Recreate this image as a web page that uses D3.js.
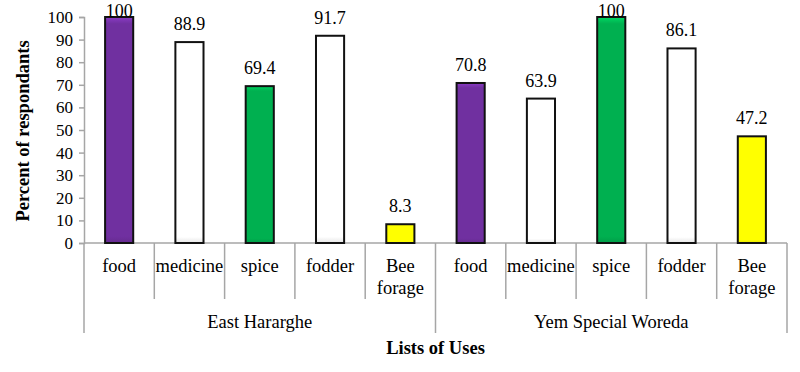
<!DOCTYPE html>
<html>
<head>
<meta charset="utf-8">
<style>
body { margin: 0; background: #fff; }
svg text { font-family: "Liberation Serif", serif; fill: #000; }
.grey { stroke: #a6a6a6; stroke-width: 1.5; }
</style>
</head>
<body>
<div id="container"></div>
<script src="https://d3js.org/d3.v7.min.js"></script>
<script>
const width = 800;
const height = 372;
const serif = '"Liberation Serif", serif';

// data
const groups = ["East Hararghe", "Yem Special Woreda"];
const uses = ["food", "medicine", "spice", "fodder", "Bee forage"];
const eastHararghe = [100, 88.9, 69.4, 91.7, 8.3];
const yemWoreda = [70.8, 63.9, 100, 86.1, 47.2];
const useColors = ["#7030a0", "#ffffff", "#00b050", "#ffffff", "#ffff00"];
const yTicks = [0, 10, 20, 30, 40, 50, 60, 70, 80, 90, 100];

const groupValues = [eastHararghe, yemWoreda];
const rows = [];
groups.forEach((g, gi) => {
  uses.forEach((u, ui) => {
    rows.push({ key: g + "|" + u, group: g, use: u, value: groupValues[gi][ui], ci: ui });
  });
});

const margin = { left: 84, right: 13, top: 17, bottom: 129 };
const svg = d3.select('#container').append('svg')
  .attr('width', width).attr('height', height)
  .attr('font-family', serif);

const defs = svg.append('defs');
useColors.forEach((c, i) => {
  const grad = defs.append('linearGradient').attr('id', 'g' + i)
    .attr('x1', 0).attr('y1', 0).attr('x2', 0).attr('y2', 1);
  const base = d3.color(c);
  grad.append('stop').attr('offset', '0%').attr('stop-color', base.brighter(0.6));
  grad.append('stop').attr('offset', '3%').attr('stop-color', base);
  grad.append('stop').attr('offset', '97%').attr('stop-color', base);
  grad.append('stop').attr('offset', '100%').attr('stop-color', base.darker(0.3));
});

const x = d3.scaleBand()
  .domain(rows.map(d => d.key))
  .range([margin.left, width - margin.right])
  .paddingInner(0.6).paddingOuter(0.3);

const y = d3.scaleLinear().domain([0, 100]).range([height - margin.bottom, margin.top]);

// y axis
const yAxis = svg.append('g')
  .attr('transform', `translate(${margin.left},0)`)
  .call(d3.axisLeft(y).tickValues(yTicks).tickSize(5).tickPadding(6));
yAxis.attr('font-family', serif).attr('font-size', 17);
yAxis.selectAll('text').attr('fill', '#000');
yAxis.selectAll('line, path').attr('stroke', '#a6a6a6').attr('stroke-width', 1.5);

// category axis line and dividers
const x0 = x.range()[0], x1 = x.range()[1], step = x.step();
const y0 = y(0);
svg.append('line').attr('class', 'grey')
  .attr('x1', x0).attr('x2', x1).attr('y1', y0).attr('y2', y0);

d3.range(rows.length + 1).forEach(i => {
  const isGroup = i % uses.length === 0;
  svg.append('line').attr('class', 'grey')
    .attr('x1', x0 + i * step).attr('x2', x0 + i * step)
    .attr('y1', y0).attr('y2', isGroup ? y0 + 90 : y0 + 56);
});

// bars
svg.append('g').selectAll('rect')
  .data(rows).join('rect')
  .attr('x', d => x(d.key))
  .attr('y', d => y(d.value))
  .attr('width', x.bandwidth())
  .attr('height', d => y0 - y(d.value))
  .attr('fill', d => 'url(#g' + d.ci + ')')
  .attr('stroke', '#111')
  .attr('stroke-width', 2);

// value labels
svg.append('g').selectAll('text')
  .data(rows).join('text')
  .attr('x', d => x(d.key) + x.bandwidth() / 2)
  .attr('y', d => Math.max(y(d.value) - 12, margin.top))
  .attr('text-anchor', 'middle')
  .attr('font-size', 18)
  .text(d => d.value);

// category labels
const cat = svg.append('g').selectAll('text')
  .data(rows).join('text')
  .attr('x', d => x(d.key) + x.bandwidth() / 2)
  .attr('y', y0 + 29)
  .attr('text-anchor', 'middle')
  .attr('font-size', 18.5);
cat.each(function (d) {
  const words = d.use === "Bee forage" ? ["Bee", "forage"] : [d.use];
  d3.select(this).selectAll('tspan').data(words).join('tspan')
    .attr('x', x(d.key) + x.bandwidth() / 2)
    .attr('dy', (w, i) => i === 0 ? 0 : 22)
    .text(w => w);
});

// group labels
svg.append('g').selectAll('text')
  .data(groups).join('text')
  .attr('x', (g, i) => x0 + (i + 0.5) * uses.length * step)
  .attr('y', y0 + 85)
  .attr('text-anchor', 'middle')
  .attr('font-size', 18.5)
  .text(g => g);

// axis titles
svg.append('text')
  .attr('x', (x0 + x1) / 2).attr('y', y0 + 111)
  .attr('text-anchor', 'middle')
  .attr('font-size', 18.5).attr('font-weight', 'bold')
  .text('Lists of Uses');

svg.append('text')
  .attr('transform', `translate(29,${(y(0) + y(100)) / 2 + 1}) rotate(-90)`)
  .attr('text-anchor', 'middle')
  .attr('font-size', 18.5).attr('font-weight', 'bold')
  .text('Percent of respondants');
</script>
</body>
</html>
